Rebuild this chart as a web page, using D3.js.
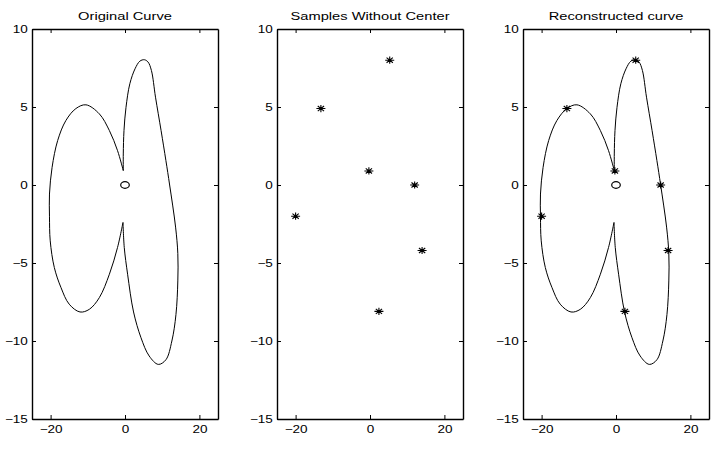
<!DOCTYPE html>
<html>
<head>
<meta charset="utf-8">
<script src="https://cdn.jsdelivr.net/npm/d3@7"></script>
<style>
  body { margin: 0; background: #fff; }
  svg { display: block; font-family: "Liberation Sans", Arial, sans-serif; }
</style>
</head>
<body>
<svg id="chart" width="716" height="458"></svg>
<script>
// --- Data ---
const titles = ["Original Curve", "Samples Without Center", "Reconstructed curve"];
const xTicks = [-20, 0, 20];
const yTicks = [-15, -10, -5, 0, 5, 10];

// sampled points (asterisks)
const sampleX = [-20.0, -13.2, -0.3, 5.3, 12.0, 14.0, 2.4];
const sampleY = [-2.0, 4.9, 0.9, 8.0, 0.0, -4.2, -8.1];

// centre marker
const centerX = [0];
const centerY = [0];

// left lobe: upper cusp -> lower cusp
const leftLobeX = [-0.46, -2.0, -4.2, -6.9, -10.5, -13.2, -15.9, -18.1, -19.6, -20.3, -20.3, -20.1, -19.0, -17.2, -15.0, -12.1, -9.6, -6.9, -4.2, -2.0, -0.54];
const leftLobeY = [0.92, 2.2, 3.49, 4.56, 5.14, 4.9, 4.13, 2.85, 1.13, -0.58, -2.0, -3.58, -5.29, -6.58, -7.64, -8.14, -7.97, -7.22, -5.72, -4.0, -2.4];

// right lobe: lower cusp -> upper cusp
const rightLobeX = [-0.54, -0.2, 0.7, 2.3, 4.3, 6.5, 8.95, 11.0, 12.6, 13.7, 14.2, 14.2, 13.6, 12.0, 11.0, 9.7, 8.2, 7.1, 6.2, 5.2, 4.0, 2.7, 1.3, 0.27, -0.27, -0.46, -0.46];
const rightLobeY = [-2.4, -4.0, -5.72, -8.14, -9.79, -10.96, -11.5, -11.2, -10.0, -8.3, -6.15, -4.4, -2.7, 0.0, 1.56, 3.49, 5.63, 7.34, 7.88, 8.03, 7.94, 7.45, 6.49, 4.98, 3.49, 1.99, 0.92];

// --- Layout ---
const panelLeft = [32, 277, 523];
const panelTop = 29, pw = 186, ph = 390;
const sx = 1.3; // the picture is stretched horizontally

const svg = d3.select("#chart");

const x = d3.scaleLinear().domain([-25, 25]).range([0, pw]);
const y = d3.scaleLinear().domain([-15, 10]).range([ph, 0]);

const zip = (xs, ys) => xs.map((v, i) => [v, ys[i]]);
const line = d3.line()
    .x(d => x(d[0]))
    .y(d => y(d[1]))
    .curve(d3.curveCatmullRom.alpha(0.5));

function drawCurve(g) {
    [zip(leftLobeX, leftLobeY), zip(rightLobeX, rightLobeY)].forEach(pts => {
        g.append("path")
            .datum(pts)
            .attr("fill", "none")
            .attr("stroke", "#000")
            .attr("stroke-width", 1)
            .attr("d", line);
    });
}

function drawCenter(g) {
    g.selectAll(".center")
        .data(zip(centerX, centerY))
        .enter().append("ellipse")
        .attr("cx", d => x(d[0]))
        .attr("cy", d => y(d[1]))
        .attr("rx", 4.3)
        .attr("ry", 3.3)
        .attr("fill", "none")
        .attr("stroke", "#000")
        .attr("stroke-width", 1.2);
}

function drawSamples(g) {
    const hx = 4.5, hy = 3.6;
    const star = `M${-hx},0H${hx}M0,${-hy}V${hy}M${-hx * 0.7},${-hy * 0.7}L${hx * 0.7},${hy * 0.7}M${-hx * 0.7},${hy * 0.7}L${hx * 0.7},${-hy * 0.7}`;
    g.selectAll(".sample")
        .data(zip(sampleX, sampleY))
        .enter().append("path")
        .attr("transform", d => `translate(${x(d[0])},${y(d[1])})`)
        .attr("d", star)
        .attr("fill", "none")
        .attr("stroke", "#000")
        .attr("stroke-width", 1.1);
}

panelLeft.forEach((left, i) => {
    const g = svg.append("g").attr("transform", `translate(${left},${panelTop})`);

    // --- Axes (MATLAB style: box with inward ticks) ---
    const bottom = g.append("g").attr("transform", `translate(0,${ph})`)
        .call(d3.axisBottom(x).tickValues(xTicks).tickSizeInner(-4).tickSizeOuter(0).tickPadding(6.5));
    const leftAx = g.append("g")
        .call(d3.axisLeft(y).tickValues(yTicks).tickSizeInner(-4).tickSizeOuter(0).tickPadding(4.2));
    g.append("g")
        .call(d3.axisTop(x).tickValues(xTicks).tickSizeInner(-4).tickSizeOuter(0).tickFormat(""));
    g.append("g").attr("transform", `translate(${pw},0)`)
        .call(d3.axisRight(y).tickValues(yTicks).tickSizeInner(-4).tickSizeOuter(0).tickFormat(""));

    g.selectAll(".domain").attr("stroke", "#000").attr("stroke-width", 1.4);
    g.selectAll(".tick line").attr("stroke", "#000").attr("stroke-width", 1);
    [bottom, leftAx].forEach(ax => ax.selectAll("text")
        .attr("fill", "#000")
        .style("font-size", "10.4px")
        .style("font-family", "'Liberation Sans', Arial, sans-serif")
        .attr("transform", `scale(${sx},1)`)
        .attr("x", function () { return +d3.select(this).attr("x") / sx; }));

    // --- Title ---
    g.append("text")
        .attr("transform", `translate(${pw / 2},-9) scale(${sx},1)`)
        .attr("text-anchor", "middle")
        .style("font-size", "11.3px")
        .attr("fill", "#000")
        .text(titles[i]);

    // --- Marks ---
    if (i === 0) { drawCurve(g); drawCenter(g); }
    if (i === 1) { drawSamples(g); }
    if (i === 2) { drawCurve(g); drawCenter(g); drawSamples(g); }
});
</script>
</body>
</html>
